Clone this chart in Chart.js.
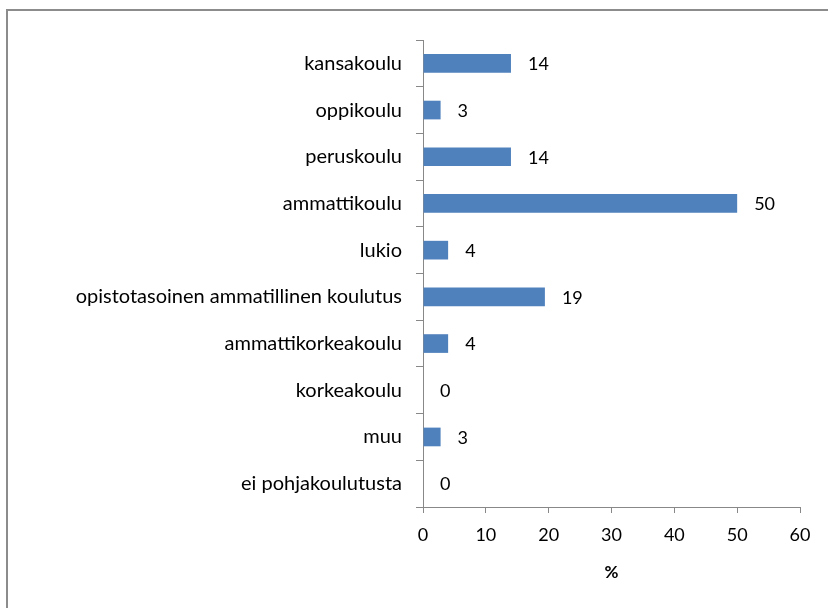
<!DOCTYPE html>
<html>
<head>
<meta charset="utf-8">
<script src="https://cdn.jsdelivr.net/npm/chart.js@4"></script>
<style>
  html, body { margin: 0; padding: 0; background: #fff; }
  #wrap { width: 828px; height: 608px; }
</style>
</head>
<body>
<div id="wrap"><canvas id="myChart" width="828" height="608"></canvas></div>
<script>
const education = ['kansakoulu', 'oppikoulu', 'peruskoulu', 'ammattikoulu', 'lukio',
    'opistotasoinen ammatillinen koulutus', 'ammattikorkeakoulu', 'korkeakoulu', 'muu', 'ei pohjakoulutusta'];
const shares = [14, 2.8, 14, 50, 4, 19.4, 4, 0, 2.8, 0];
const xTicks = [0, 10, 20, 30, 40, 50, 60];
const barColor = '#4F81BD';
const axisColor = '#888888';
const fontFamily = 'Lato, "Open Sans", sans-serif';

// frame around the chart, runs off the right and bottom edge
const framePlugin = {
    id: 'frame',
    beforeDraw(chart) {
        const c = chart.ctx;
        c.save();
        c.strokeStyle = '#8c8c8c';
        c.lineWidth = 2;
        c.strokeRect(7, 10, 900, 700);
        c.restore();
    }
};

// value labels right of each bar
const valueLabels = {
    id: 'valueLabels',
    afterDatasetsDraw(chart) {
        const c = chart.ctx;
        const meta = chart.getDatasetMeta(0);
        c.save();
        c.fillStyle = '#000';
        c.font = '18px ' + fontFamily;
        c.textAlign = 'left';
        c.textBaseline = 'middle';
        meta.data.forEach((bar, i) => {
            c.fillText(Math.round(shares[i]), bar.x + 17, bar.y + 1);
        });
        c.restore();
    }
};

const ctx = document.getElementById('myChart').getContext('2d');

const myBarChart = new Chart(ctx, {
    type: 'bar',
    data: {
        labels: education,
        datasets: [{
            data: shares,
            backgroundColor: barColor,
            borderWidth: 0,
            barPercentage: 0.4,
            categoryPercentage: 1
        }]
    },
    options: {
        indexAxis: 'y',
        responsive: false,
        maintainAspectRatio: false,
        animation: false,
        layout: {
            padding: {top: 40, right: 28, left: 0, bottom: 0}
        },
        scales: {
            x: {
                min: 0,
                max: 60,
                afterBuildTicks: (scale) => { scale.ticks = xTicks.map(v => ({value: v})); },
                afterFit: (scale) => { scale.height = 101; },
                grid: {
                    drawOnChartArea: false,
                    drawTicks: true,
                    tickLength: 6,
                    color: axisColor
                },
                border: {color: axisColor, width: 1},
                ticks: {
                    color: '#000',
                    padding: 11,
                    font: {family: fontFamily, size: 18}
                },
                title: {
                    display: true,
                    text: '%',
                    color: '#000',
                    font: {family: fontFamily, size: 17, weight: 'bold'},
                    padding: {top: 0, bottom: 25}
                }
            },
            y: {
                afterFit: (scale) => { scale.width = 423; },
                grid: {
                    drawOnChartArea: false,
                    drawTicks: true,
                    tickLength: 7,
                    color: axisColor
                },
                border: {color: axisColor, width: 1},
                ticks: {
                    color: '#000',
                    padding: 14,
                    font: {family: fontFamily, size: 20}
                }
            }
        },
        plugins: {
            legend: {display: false},
            tooltip: {enabled: false}
        }
    },
    plugins: [framePlugin, valueLabels]
});
</script>
</body>
</html>
